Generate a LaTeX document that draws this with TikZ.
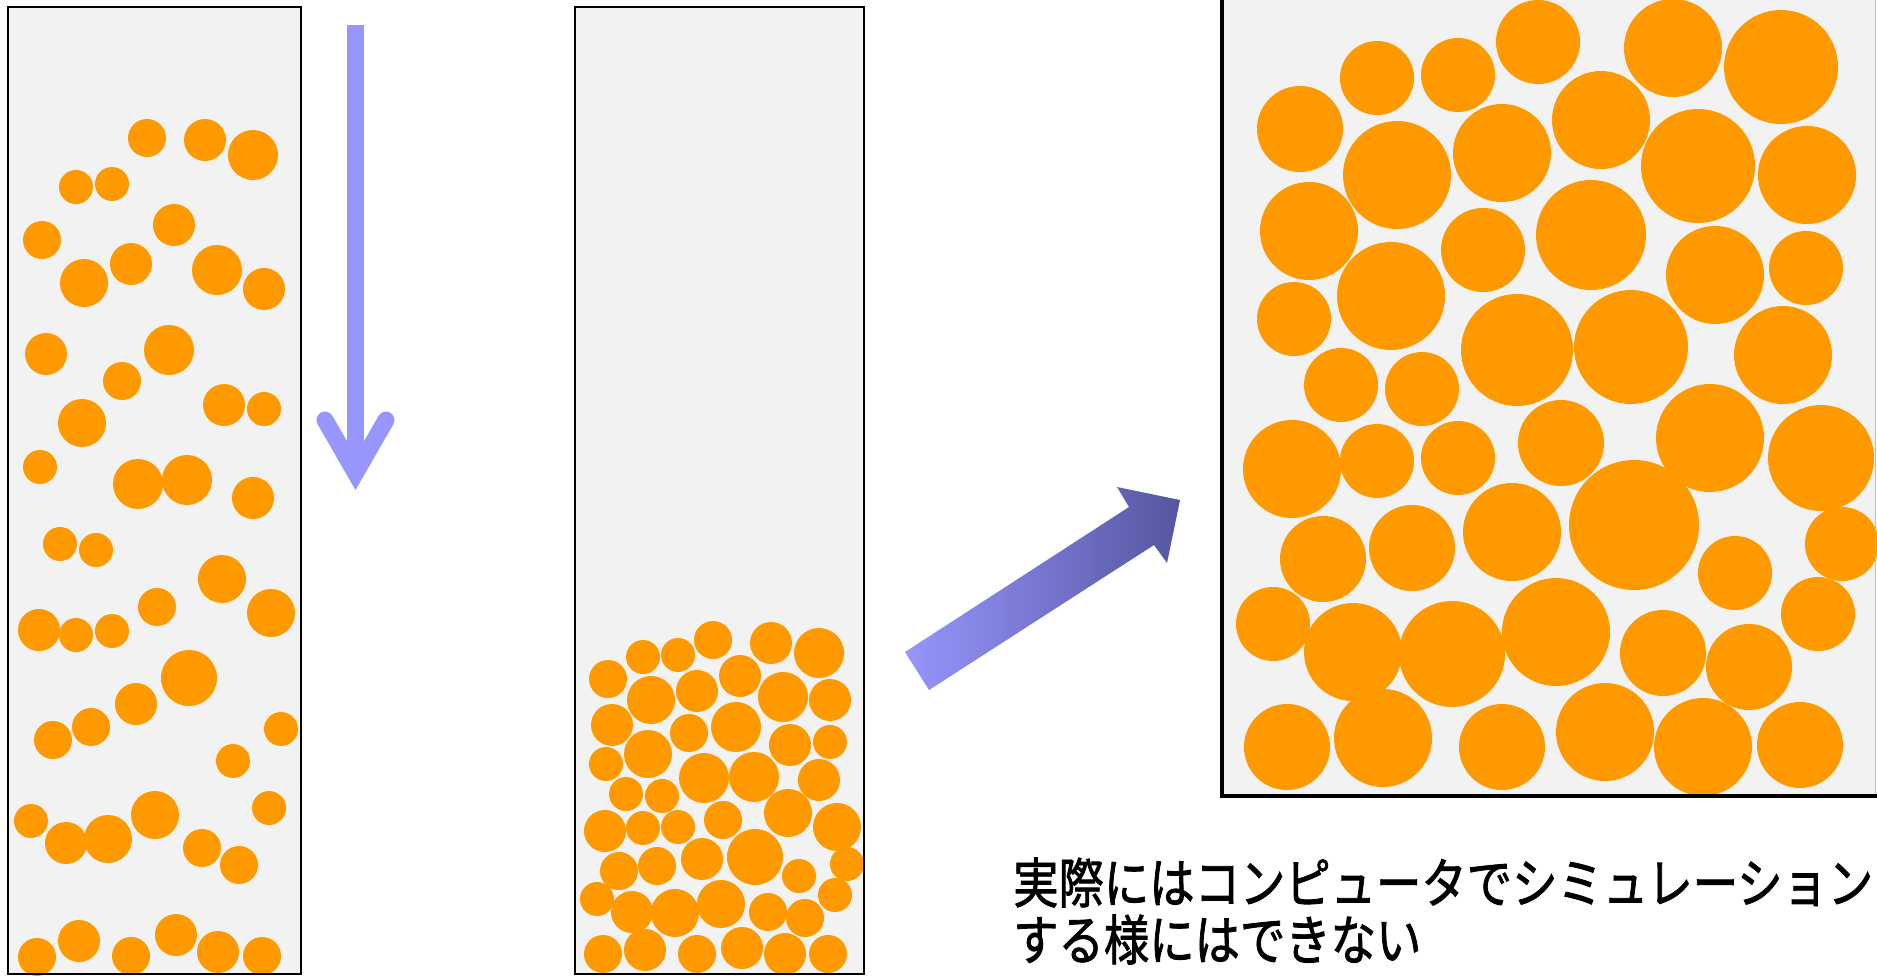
\documentclass[tikz,border=0pt]{standalone}
\usepackage{fontspec}
\usepackage{graphicx}
\newfontfamily\jp{Noto Sans CJK JP}[FakeBold=1.6]
\definecolor{ball}{RGB}{255,153,0}
\definecolor{boxfill}{RGB}{242,242,242}
\definecolor{arrowlight}{RGB}{150,150,252}
\definecolor{arrowdark}{RGB}{85,85,160}
\tikzset{
  ballfill/.style={fill=ball},
  boxline/.style={draw=black, line width=2.2pt, fill=boxfill},
  downarrow/.style={draw=arrowlight, line width=17pt},
  jptext/.style={anchor=base west, inner sep=0pt, font=\jp\fontsize{54pt}{57pt}\selectfont}
}
\begin{document}
\begin{tikzpicture}[x=1pt, y=-1pt]
\useasboundingbox (0,0) rectangle (1877,975);
\clip (0,0) rectangle (1877,975);
\fill[white] (0,0) rectangle (1877,975);

% left container
\draw[boxline] (8,7) rectangle (301,974);
\foreach \x/\y/\r in {
 147/138/19, 205/140/21, 253/155/25, 76/187/17, 112/184/17, 174/225/21,
 42/240/19, 84/283/24, 131/264/21, 217/270/25, 264/289/21,
 46/354/21, 169/350/25, 122/381/19, 224/405/21, 264/409/17, 82/423/24,
 40/467/17, 138/484/25, 187/480/25, 253/498/21, 60/544/17, 96/550/17,
 222/579/24, 157/607/19, 271/613/24, 39/630/21, 76/635/17, 112/631/17,
 189/678/28, 136/704/21, 91/727/19, 53/740/19, 281/729/17, 233/761/17,
 31/821/17, 66/843/21, 108/839/24, 155/815/24, 269/808/17, 202/848/19,
 239/865/19, 37/957/19, 79/941/21, 131/956/19, 176/935/21, 218/952/21,
 262/956/19}
  \fill[ballfill] (\x,\y) circle[radius=\r pt];
\draw[draw=black, line width=2.2pt] (8,7) rectangle (301,974);

% down arrow
\coordinate (dtop) at (355.5,25);
\coordinate (dend) at (355.5,470);
\coordinate (dl) at (325,420);
\coordinate (dtip) at (355.5,473);
\coordinate (dr) at (386,420);
\draw[downarrow] (dtop) -- (dend);
\draw[downarrow, line cap=round, line join=miter] (dl) -- (dtip) -- (dr);

% middle container
\draw[boxline] (575,7) rectangle (864,974);
\foreach \x/\y/\r in {
 643/657/17, 678/655/17, 713/640/19, 771/643/21, 819/653/25,
 608/679/19, 651/700/24, 697/691/21, 740/676/21, 783/697/25, 830/700/21,
 612/725/21, 689/733/19, 736/727/25, 648/754/24, 790/745/21, 830/742/17,
 606/764/17, 704/778/25, 754/777/25, 819/780/21, 626/794/17, 662/796/17,
 723/820/19, 788/813/24, 605/831/21, 643/828/17, 678/827/17, 837/827/24,
 755/857/28, 702/859/21, 657/866/19, 619/871/19, 847/864/17, 799/876/17,
 597/899/17, 632/912/21, 675/913/24, 721/904/24, 768/912/19, 805/918/19,
 835/895/17, 603/954/19, 645/950/21, 697/954/19, 742/948/21, 785/954/21,
 828/954/19}
  \fill[ballfill] (\x,\y) circle[radius=\r pt];
\draw[draw=black, line width=2.2pt] (575,7) rectangle (864,974);

% diagonal arrow
\shade[left color=arrowlight, right color=arrowdark]
  (905,652) -- (1129,507) -- (1117,487) -- (1180,500) -- (1167,563)
  -- (1154,545) -- (929,690) -- cycle;

% right container (enlarged)
\fill[boxfill] (1222,-10) rectangle (1875,796);
\foreach \x/\y/\r in {
 1377/78/37, 1458/75/37, 1538/42/42, 1673/48/49, 1781/67/57,
 1300/129/43, 1397/175/54, 1502/153/49, 1601/120/49, 1698/166/57, 1807/175/49,
 1309/231/49, 1483/250/42, 1591/235/55, 1715/275/49, 1806/268/37,
 1294/319/37, 1391/296/54, 1517/350/56, 1631/347/57, 1783/355/49,
 1341/385/37, 1422/389/37,
 1292/469/49, 1377/461/37, 1458/458/37, 1561/443/43, 1710/438/54, 1821/458/53,
 1323/559/43, 1412/548/43, 1512/532/49, 1634/525/65, 1735/573/37, 1842/544/37,
 1273/624/37, 1353/652/49, 1452/654/53, 1556/632/54, 1663/653/43, 1749/667/43, 1818/614/37,
 1287/747/43, 1383/738/49, 1502/747/43, 1605/732/49, 1703/747/49, 1800/745/43}
  \fill[ballfill] (\x,\y) circle[radius=\r pt];
\draw[draw=black!25, line width=1pt] (1875,-10) -- (1875,796);
\draw[draw=black, line width=4pt] (1222,-10) -- (1222,796) -- (1877,796);

% caption
\node[jptext] (txt1) at (1013,903) {\scalebox{0.84}[1]{実際にはコンピュータでシミュレーション}};
\node[jptext] (txt2) at (1013,960) {\scalebox{0.84}[1]{する様にはできない}};
\end{tikzpicture}
\end{document}
